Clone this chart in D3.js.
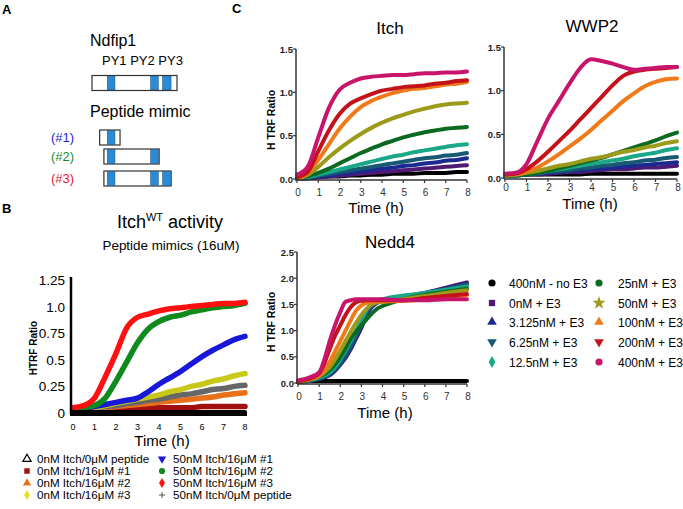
<!DOCTYPE html>
<html><head><meta charset="utf-8">
<script src="https://cdn.jsdelivr.net/npm/d3@7"></script>
<style>
body{margin:0;background:#fff;}
text{font-family:"Liberation Sans",Arial,sans-serif;}
</style></head>
<body>
<svg id="fig" width="683" height="509"></svg>
<script>
// ---------------- DATA ----------------
const hours = [0,0.5,1,1.5,2,2.5,3,3.5,4,4.5,5,5.5,6,6.5,7,7.5,8];
const nedd4Hours = [0,0.5,1,1.25,1.5,1.75,2,2.25,2.5,2.75,3,3.25,3.5,3.75,4,4.5,5,6,7,8];
const xTicks = [0,1,2,3,4,5,6,7,8];

// Panel A schematic (arbitrary residue units 0-100)
const pyNames = ["PY1","PY2","PY3"];
const pyStarts = [18, 69, 83];
const pyEnds   = [27, 78, 93];
const mimicLabels = ["(#1)","(#2)","(#3)"];
const mimicStarts = [9, 14, 14];
const mimicEnds   = [33, 79, 93];
const mimicPY     = [[0],[0,1],[0,1,2]];

// Panel B: ItchWT activity
const bLabels = ["0nM Itch/0\u03bcM peptide","0nM Itch/16\u03bcM #1","0nM Itch/16\u03bcM #2","0nM Itch/16\u03bcM #3",
                 "50nM Itch/16\u03bcM #1","50nM Itch/16\u03bcM #2","50nM Itch/16\u03bcM #3","50nM Itch/0\u03bcM peptide"];
const b_0nM_0pep = [0.01,0.01,0.01,0.01,0.01,0.01,0.01,0.01,0.01,0.01,0.01,0.01,0.01,0.01,0.01,0.01,0.01];
const b_0nM_p1   = [0.03,0.03,0.03,0.04,0.04,0.04,0.04,0.05,0.05,0.05,0.05,0.05,0.06,0.06,0.06,0.06,0.06];
const b_0nM_p2   = [0.02,0.03,0.04,0.05,0.06,0.07,0.08,0.09,0.10,0.11,0.12,0.13,0.14,0.15,0.17,0.18,0.19];
const b_0nM_p3   = [0.03,0.04,0.05,0.07,0.09,0.11,0.13,0.15,0.17,0.20,0.22,0.25,0.27,0.30,0.32,0.35,0.37];
const b_50nM_p1  = [0.03,0.04,0.06,0.08,0.10,0.12,0.14,0.20,0.27,0.33,0.39,0.46,0.53,0.59,0.64,0.69,0.72];
const b_50nM_p2  = [0.04,0.05,0.07,0.14,0.30,0.48,0.66,0.79,0.86,0.90,0.92,0.95,0.97,0.99,1.00,1.01,1.03];
const b_50nM_p3  = [0.05,0.07,0.14,0.34,0.56,0.80,0.90,0.93,0.96,0.98,0.99,1.00,1.01,1.02,1.03,1.03,1.04];
const b_50nM_0pep= [0.03,0.04,0.05,0.06,0.07,0.09,0.10,0.12,0.13,0.15,0.17,0.18,0.20,0.22,0.23,0.25,0.26];
const bYTicks = [0,0.25,0.5,0.75,1.0,1.25];
const bYTickLabels = ["0","0.25","0.5","0.75","1.0","1.25"];

// Panel C: concentrations
const cLabels = ["400nM - no E3","0nM + E3","3.125nM + E3","6.25nM + E3","12.5nM + E3",
                 "25nM + E3","50nM + E3","100nM + E3","200nM + E3","400nM + E3"];
// Itch
const itch_noE3  = [0.00,0.01,0.02,0.03,0.03,0.04,0.04,0.05,0.05,0.06,0.06,0.06,0.07,0.07,0.07,0.08,0.08];
const itch_0     = [0.00,0.01,0.02,0.03,0.04,0.05,0.06,0.07,0.08,0.09,0.10,0.11,0.12,0.13,0.14,0.15,0.16];
const itch_3125  = [0.00,0.01,0.03,0.04,0.06,0.07,0.09,0.10,0.12,0.13,0.15,0.16,0.18,0.19,0.21,0.22,0.24];
const itch_625   = [0.00,0.02,0.04,0.06,0.08,0.10,0.12,0.14,0.16,0.18,0.20,0.22,0.24,0.25,0.27,0.28,0.30];
const itch_125   = [0.00,0.02,0.05,0.08,0.11,0.14,0.17,0.20,0.23,0.26,0.28,0.31,0.33,0.35,0.37,0.39,0.40];
const itch_25    = [0.00,0.03,0.07,0.12,0.18,0.24,0.30,0.35,0.40,0.44,0.48,0.51,0.54,0.56,0.58,0.59,0.60];
const itch_50    = [0.00,0.05,0.14,0.25,0.35,0.44,0.52,0.59,0.65,0.70,0.74,0.78,0.81,0.84,0.86,0.87,0.88];
const itch_100   = [0.00,0.07,0.22,0.40,0.58,0.72,0.83,0.90,0.95,0.99,1.02,1.04,1.05,1.07,1.09,1.10,1.12];
const itch_200   = [0.02,0.08,0.32,0.56,0.75,0.87,0.93,0.98,1.02,1.04,1.06,1.07,1.08,1.10,1.11,1.13,1.14];
const itch_400   = [0.05,0.14,0.48,0.82,1.03,1.11,1.16,1.18,1.19,1.20,1.20,1.21,1.22,1.22,1.23,1.23,1.24];
// WWP2
const wwp2_noE3  = [0.04,0.04,0.04,0.04,0.04,0.04,0.04,0.04,0.05,0.05,0.05,0.05,0.05,0.05,0.05,0.05,0.05];
const wwp2_0     = [0.03,0.03,0.04,0.04,0.05,0.06,0.07,0.07,0.08,0.09,0.10,0.10,0.11,0.12,0.12,0.13,0.14];
const wwp2_3125  = [0.03,0.03,0.04,0.05,0.06,0.07,0.08,0.09,0.10,0.11,0.12,0.13,0.14,0.15,0.16,0.17,0.18];
const wwp2_625   = [0.03,0.03,0.04,0.05,0.07,0.08,0.09,0.11,0.12,0.14,0.15,0.17,0.18,0.20,0.21,0.23,0.24];
const wwp2_125   = [0.03,0.03,0.05,0.06,0.08,0.10,0.12,0.14,0.16,0.18,0.20,0.22,0.25,0.27,0.29,0.32,0.34];
const wwp2_25    = [0.03,0.03,0.04,0.06,0.08,0.11,0.14,0.17,0.20,0.23,0.27,0.31,0.35,0.39,0.43,0.48,0.52];
const wwp2_50    = [0.03,0.04,0.06,0.08,0.11,0.14,0.16,0.19,0.22,0.24,0.27,0.30,0.32,0.35,0.37,0.40,0.42];
const wwp2_100   = [0.04,0.04,0.07,0.12,0.19,0.27,0.36,0.45,0.55,0.66,0.77,0.88,0.97,1.05,1.10,1.13,1.14];
const wwp2_200   = [0.04,0.05,0.10,0.19,0.30,0.42,0.54,0.67,0.80,0.93,1.06,1.17,1.22,1.24,1.25,1.26,1.27];
const wwp2_400   = [0.05,0.06,0.16,0.42,0.68,0.88,1.08,1.26,1.36,1.34,1.31,1.27,1.24,1.25,1.26,1.27,1.27];
// Nedd4
const nedd4_noE3 = [0.04,0.04,0.04,0.04,0.04,0.04,0.04,0.04,0.04,0.04,0.04,0.04,0.04,0.04,0.04,0.04,0.04,0.04,0.04,0.04];
const nedd4_0    = [0.02,0.04,0.08,0.11,0.15,0.23,0.35,0.48,0.65,0.85,1.05,1.30,1.45,1.53,1.58,1.62,1.65,1.72,1.82,1.92];
const nedd4_3125 = [0.02,0.04,0.08,0.11,0.15,0.24,0.36,0.50,0.67,0.87,1.08,1.32,1.47,1.54,1.58,1.62,1.65,1.72,1.80,1.90];
const nedd4_625  = [0.02,0.04,0.09,0.12,0.17,0.26,0.38,0.53,0.70,0.90,1.12,1.35,1.48,1.55,1.58,1.62,1.65,1.71,1.79,1.88];
const nedd4_125  = [0.03,0.05,0.10,0.14,0.20,0.30,0.45,0.62,0.80,1.00,1.20,1.40,1.52,1.58,1.60,1.64,1.67,1.72,1.78,1.84];
const nedd4_25   = [0.03,0.05,0.12,0.17,0.25,0.36,0.50,0.67,0.85,0.98,1.10,1.22,1.33,1.42,1.47,1.54,1.60,1.68,1.74,1.80];
const nedd4_50   = [0.03,0.06,0.13,0.20,0.30,0.45,0.62,0.80,0.98,1.15,1.30,1.42,1.50,1.54,1.55,1.57,1.60,1.66,1.72,1.77];
const nedd4_100  = [0.03,0.07,0.14,0.25,0.40,0.60,0.80,1.00,1.20,1.38,1.48,1.53,1.55,1.56,1.56,1.56,1.57,1.60,1.64,1.68];
const nedd4_200  = [0.03,0.08,0.18,0.38,0.65,0.90,1.10,1.30,1.45,1.54,1.57,1.58,1.58,1.58,1.58,1.58,1.58,1.62,1.66,1.70];
const nedd4_400  = [0.05,0.10,0.20,0.45,0.80,1.10,1.35,1.55,1.58,1.60,1.60,1.60,1.60,1.60,1.60,1.59,1.58,1.58,1.60,1.60];

const cYTicks15 = [0,0.5,1.0,1.5];
const cYTicks25 = [0,0.5,1.0,1.5,2.0,2.5];

// ---------------- STYLES ----------------
const bColors  = ["#000000","#a01010","#e8701a","#e8e020","#1818d8","#0f8a1c","#ff1010","#666666"];
const bSymbols = ["triangleOpen","square","triangle","diamond","triangleDown","circle","diamond","plus"];
const cColors  = ["#000000","#4e1a72","#1c2a90","#175a72","#1aa888","#0b6a20","#9c9a1a","#f07a18","#c4121a","#c8146a"];
const cSymbols = ["circle","square","triangle","triangleDown","diamond","circle","star","triangle","triangleDown","circle"];

const svg = d3.select("#fig");

function symbolPath(name, size){
  const map = {circle:d3.symbolCircle, square:d3.symbolSquare, triangle:d3.symbolTriangle,
    diamond:d3.symbolDiamond, star:d3.symbolStar, plus:d3.symbolCross, triangleOpen:d3.symbolTriangle};
  if(name==="triangleDown") return d3.symbol().type(d3.symbolTriangle).size(size)();
  return d3.symbol().type(map[name]).size(size)();
}

// ---------------- PANEL A ----------------
svg.append("text").attr("x",2).attr("y",14).attr("font-size",13).attr("font-weight","bold").text("A");
const ax = d3.scaleLinear().domain([0,100]).range([92,177]);
svg.append("text").attr("x",90).attr("y",46).attr("font-size",16).text("Ndfip1");
svg.append("text").attr("x",102).attr("y",65).attr("font-size",13).text(pyNames.join(" "));
function construct(y0, h, s, e, pys){
  const g = svg.append("g");
  g.append("rect").attr("x",ax(s)).attr("y",y0).attr("width",ax(e)-ax(s)).attr("height",h)
   .attr("fill","#fff").attr("stroke","#333").attr("stroke-width",1.2);
  pys.forEach(i=>{
    g.append("rect").attr("x",ax(pyStarts[i])).attr("y",y0+0.6).attr("width",ax(pyEnds[i])-ax(pyStarts[i])).attr("height",h-1.2)
     .attr("fill","#2a8ad6").attr("stroke","#1a4a70").attr("stroke-width",0.5);
  });
}
construct(75.5,15,0,100,[0,1,2]);
svg.append("text").attr("x",90).attr("y",117).attr("font-size",16).text("Peptide mimic");
const mimicY = [130,149,171];
const mimicColors = ["#2525d0","#1a8a2a","#e02030"];
mimicLabels.forEach((l,i)=>{
  construct(mimicY[i],15,mimicStarts[i],mimicEnds[i],mimicPY[i]);
  svg.append("text").attr("x",51).attr("y",mimicY[i]+12).attr("font-size",13).attr("fill",mimicColors[i]).text(l);
});

// ---------------- generic plotting ----------------
function drawSeries(g, x, y, times, seriesList, colors, width){
  const line = d3.line().x((d,i)=>x(times[i])).y(d=>y(d)).curve(d3.curveMonotoneX);
  seriesList.forEach((s,i)=>{
    g.append("path").datum(s).attr("d",line).attr("fill","none")
      .attr("stroke",colors[i]).attr("stroke-width",width).attr("stroke-linecap","round").attr("stroke-linejoin","round");
  });
}

// ---------------- PANEL B ----------------
svg.append("text").attr("x",2).attr("y",213).attr("font-size",13).attr("font-weight","bold").text("B");
const bt = svg.append("text").attr("x",170).attr("y",228).attr("font-size",18).attr("text-anchor","middle");
bt.append("tspan").text("Itch");
bt.append("tspan").attr("dy",-7).attr("font-size",11).text("WT");
bt.append("tspan").attr("dy",7).text(" activity");
svg.append("text").attr("x",171).attr("y",250).attr("font-size",13.4).attr("text-anchor","middle").text("Peptide mimics (16uM)");

const bx = d3.scaleLinear().domain([0,8]).range([73,245]);
const by = d3.scaleLinear().domain([0,1.25]).range([413,280]);
const gB = svg.append("g");
drawSeries(gB, bx, by, hours,
  [b_0nM_p1, b_0nM_p2, b_50nM_0pep, b_0nM_p3, b_50nM_p1, b_50nM_p2, b_50nM_p3],
  [bColors[1], bColors[2], bColors[7], "#c8c818", bColors[4], bColors[5], bColors[6]], 5.5);
drawSeries(gB, bx, by, hours, [b_0nM_0pep],[bColors[0]],4);
gB.append("line").attr("x1",71).attr("x2",71).attr("y1",277).attr("y2",415).attr("stroke","#000").attr("stroke-width",2.5);
gB.append("line").attr("x1",70).attr("x2",bx(8)+2).attr("y1",414).attr("y2",414).attr("stroke","#000").attr("stroke-width",4);
bYTicks.forEach((t,i)=>{
  gB.append("text").attr("x",65).attr("y",by(t)+5).attr("font-size",13.5).attr("text-anchor","end").text(bYTickLabels[i]);
});
xTicks.forEach(t=>{
  gB.append("text").attr("x",bx(t)).attr("y",430).attr("font-size",9).attr("text-anchor","middle").text(t);
});
gB.append("text").attr("transform","translate(37,348) rotate(-90)").attr("font-size",10).attr("font-weight","bold")
  .attr("text-anchor","middle").text("HTRF Ratio");
gB.append("text").attr("x",162).attr("y",446).attr("font-size",15).attr("text-anchor","middle").text("Time (h)");

// legend B
const bRowY = [463,475,487,499];
bLabels.forEach((l,i)=>{
  const col = Math.floor(i/4), row = i%4;
  const mx = col===0?27:162, tx = col===0?37:173;
  const sym = bSymbols[i];
  const p = svg.append("path").attr("d",symbolPath(sym, 30))
    .attr("transform",`translate(${mx},${bRowY[row]-4})`+(sym==="triangleDown"?" rotate(180)":""));
  if(sym==="triangleOpen"){ p.attr("fill","none").attr("stroke","#000").attr("stroke-width",1.2); }
  else if(sym==="plus"){ p.attr("d","M-3,0H3M0,-3V3").attr("fill","none").attr("stroke","#555").attr("stroke-width",1); }
  else p.attr("fill",bColors[i]);
  svg.append("text").attr("transform",`translate(${tx},${bRowY[row]}) scale(1.12,1)`).attr("font-size",10.4).text(l);
});

// ---------------- PANEL C ----------------
svg.append("text").attr("x",232).attr("y",13).attr("font-size",13).attr("font-weight","bold").text("C");

function cPanel(opts){
  const {x, y, yTicks, title, titleX, titleY, times, series, yLabel, xLabelY, timeX, timeY, yLabelPos} = opts;
  const g = svg.append("g");
  drawSeries(g, x, y, times, series, cColors, 4);
  const x0 = x.range()[0]-1, y0 = y.range()[0]+1;
  g.append("line").attr("x1",x0).attr("x2",x0).attr("y1",y.range()[1]).attr("y2",y0).attr("stroke","#333").attr("stroke-width",1.5);
  g.append("line").attr("x1",x0).attr("x2",x(8)).attr("y1",y0).attr("y2",y0).attr("stroke","#333").attr("stroke-width",1.5);
  yTicks.forEach(t=>{
    g.append("line").attr("x1",x0-3).attr("x2",x0).attr("y1",y(t)).attr("y2",y(t)).attr("stroke","#333").attr("stroke-width",1.2);
    g.append("text").attr("x",x0-3).attr("y",y(t)+3.5).attr("font-size",9.5).attr("font-weight","bold")
      .attr("text-anchor","end").attr("fill","#222").text(d3.format(".1f")(t));
  });
  xTicks.forEach(t=>{
    g.append("line").attr("x1",x(t)).attr("x2",x(t)).attr("y1",y0).attr("y2",y0+3).attr("stroke","#333").attr("stroke-width",1.2);
    g.append("text").attr("x",x(t)+1).attr("y",xLabelY).attr("font-size",10).attr("text-anchor","middle").attr("fill","#333").text(t);
  });
  g.append("text").attr("x",titleX).attr("y",titleY).attr("font-size",17).attr("text-anchor","middle").text(title);
  g.append("text").attr("x",timeX).attr("y",timeY).attr("font-size",15).attr("text-anchor","middle").text("Time (h)");
  if(yLabel){
    g.append("text").attr("transform",`translate(${yLabelPos[0]},${yLabelPos[1]}) rotate(-90)`).attr("font-size",10.5)
      .attr("font-weight","bold").attr("text-anchor","middle").text(yLabel);
  }
}

cPanel({x:d3.scaleLinear().domain([0,8]).range([297,467]), y:d3.scaleLinear().domain([0,1.5]).range([179,49]),
  yTicks:cYTicks15, title:"Itch", titleX:390, titleY:34, times:hours,
  series:[itch_noE3,itch_0,itch_3125,itch_625,itch_125,itch_25,itch_50,itch_100,itch_200,itch_400],
  yLabel:"H TRF Ratio", yLabelPos:[275,120], xLabelY:196, timeX:376, timeY:213});

cPanel({x:d3.scaleLinear().domain([0,8]).range([505,677]), y:d3.scaleLinear().domain([0,1.5]).range([178,47]),
  yTicks:cYTicks15, title:"WWP2", titleX:592, titleY:32, times:hours,
  series:[wwp2_noE3,wwp2_0,wwp2_3125,wwp2_625,wwp2_125,wwp2_25,wwp2_50,wwp2_100,wwp2_200,wwp2_400],
  yLabel:null, xLabelY:191, timeX:590, timeY:209});

cPanel({x:d3.scaleLinear().domain([0,8]).range([298,467]), y:d3.scaleLinear().domain([0,2.5]).range([383,252]),
  yTicks:cYTicks25, title:"Nedd4", titleX:390, titleY:248, times:nedd4Hours,
  series:[nedd4_noE3,nedd4_0,nedd4_3125,nedd4_625,nedd4_125,nedd4_25,nedd4_50,nedd4_100,nedd4_200,nedd4_400],
  yLabel:"H TRF Ratio", yLabelPos:[275,322], xLabelY:400, timeX:385, timeY:418});

// legend C
const cRowY = [283,303,322,342,362];
cLabels.forEach((l,i)=>{
  const col = Math.floor(i/5), row = i%5;
  const mx = col===0?492:599, tx = col===0?509:618;
  const sym = cSymbols[i];
  svg.append("path").attr("d",symbolPath(sym, sym==="star"?55:40))
    .attr("transform",`translate(${mx},${cRowY[row]})`+(sym==="triangleDown"?" rotate(180)":""))
    .attr("fill",cColors[i]);
  svg.append("text").attr("x",tx).attr("y",cRowY[row]+4.5).attr("font-size",12).text(l);
});
</script>
</body></html>
